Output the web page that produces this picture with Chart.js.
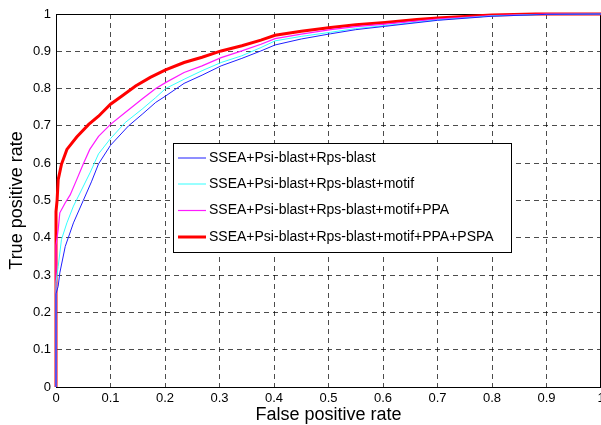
<!DOCTYPE html>
<html>
<head>
<meta charset="utf-8">
<script src="https://cdn.jsdelivr.net/npm/chart.js@4/dist/chart.umd.min.js"></script>
<style>
  html, body { margin: 0; padding: 0; background: #fff; }
  #wrap { width: 601px; height: 425px; }
</style>
</head>
<body>
<div id="wrap"><canvas id="roc" width="601" height="425"></canvas></div>
<script>
// ROC curves, values
var seriesLabels = [
    'SSEA+Psi-blast+Rps-blast',
    'SSEA+Psi-blast+Rps-blast+motif',
    'SSEA+Psi-blast+Rps-blast+motif+PPA',
    'SSEA+Psi-blast+Rps-blast+motif+PPA+PSPA'
];

var blueX = [0, 0, 0.004, 0.007, 0.017, 0.032, 0.05, 0.065, 0.078, 0.1, 0.133, 0.158, 0.183, 0.201, 0.235, 0.268, 0.303, 0.341, 0.376, 0.402, 0.45, 0.504, 0.55, 0.604, 0.7, 0.8, 0.9, 1];
var blueY = [0, 0.25, 0.27, 0.306, 0.377, 0.44, 0.5, 0.55, 0.598, 0.648, 0.70, 0.731, 0.763, 0.78, 0.814, 0.836, 0.861, 0.881, 0.901, 0.917, 0.933, 0.947, 0.958, 0.967, 0.983, 0.994, 0.999, 1];

var cyanX = [0, 0, 0.004, 0.01, 0.02, 0.032, 0.044, 0.063, 0.078, 0.1, 0.127, 0.158, 0.183, 0.201, 0.235, 0.268, 0.303, 0.341, 0.376, 0.402, 0.45, 0.504, 0.55, 0.604, 0.7, 0.8, 0.9, 1];
var cyanY = [0, 0.28, 0.323, 0.395, 0.44, 0.485, 0.52, 0.576, 0.625, 0.666, 0.709, 0.745, 0.776, 0.8, 0.825, 0.848, 0.870, 0.888, 0.910, 0.928, 0.94, 0.951, 0.961, 0.969, 0.984, 0.995, 0.999, 1];

var magentaX = [0, 0, 0.004, 0.007, 0.017, 0.026, 0.038, 0.05, 0.062, 0.078, 0.1, 0.127, 0.158, 0.183, 0.201, 0.235, 0.268, 0.303, 0.341, 0.376, 0.402, 0.45, 0.504, 0.55, 0.604, 0.7, 0.8, 0.9, 1];
var magentaY = [0, 0.38, 0.422, 0.467, 0.494, 0.515, 0.556, 0.598, 0.637, 0.672, 0.704, 0.736, 0.772, 0.8, 0.816, 0.843, 0.861, 0.883, 0.901, 0.919, 0.934, 0.946, 0.958, 0.966, 0.973, 0.986, 0.996, 1, 1];

var redX = [0, 0, 0.002, 0.004, 0.01, 0.02, 0.038, 0.06, 0.078, 0.1, 0.121, 0.146, 0.173, 0.201, 0.235, 0.268, 0.303, 0.341, 0.376, 0.402, 0.45, 0.504, 0.55, 0.604, 0.662, 0.7, 0.8, 0.88, 1];
var redY = [0, 0.47, 0.5, 0.556, 0.597, 0.637, 0.67, 0.704, 0.726, 0.758, 0.780, 0.807, 0.83, 0.85, 0.870, 0.884, 0.901, 0.915, 0.93, 0.943, 0.954, 0.964, 0.971, 0.977, 0.985, 0.989, 0.997, 1, 1];

var xTicks = [0, 0.1, 0.2, 0.3, 0.4, 0.5, 0.6, 0.7, 0.8, 0.9, 1];
var yTicks = [0, 0.1, 0.2, 0.3, 0.4, 0.5, 0.6, 0.7, 0.8, 0.9, 1];

function pts(xs, ys) {
    return xs.map(function(x, i) { return { x: x, y: ys[i] }; });
}

function tickLabel(v) {
    return String(Math.round(v * 10) / 10);
}

// Frame on top/right + legend box inside the axes
var matlabBits = {
    id: 'matlabBits',
    beforeDatasetsDraw: function(chart) {
        var a = chart.chartArea, ctx = chart.ctx;
        ctx.save();
        ctx.strokeStyle = '#000';
        ctx.lineWidth = 1;
        ctx.beginPath();
        ctx.moveTo(a.left, a.top + 0.5);
        ctx.lineTo(a.right, a.top + 0.5);
        ctx.moveTo(a.right - 0.5, a.top);
        ctx.lineTo(a.right - 0.5, a.bottom);
        ctx.stroke();
        ctx.restore();
    },
    afterDatasetsDraw: function(chart) {
        var ctx = chart.ctx;
        var bx = 173.5, by = 143.5, bw = 338, bh = 109;
        ctx.save();
        ctx.fillStyle = '#fff';
        ctx.fillRect(bx, by, bw, bh);
        ctx.strokeStyle = '#000';
        ctx.lineWidth = 1;
        ctx.strokeRect(bx, by, bw, bh);
        ctx.font = '14px "Liberation Sans", Arial, sans-serif';
        ctx.textBaseline = 'middle';
        ctx.fillStyle = '#000';
        var rows = [158, 184, 210.5, 237];
        chart.data.datasets.forEach(function(ds, i) {
            ctx.strokeStyle = ds.borderColor;
            ctx.lineWidth = ds.borderWidth;
            ctx.beginPath();
            ctx.moveTo(178, rows[i]);
            ctx.lineTo(206, rows[i]);
            ctx.stroke();
            ctx.fillText(ds.label, 209, rows[i]);
        });
        ctx.restore();
    }
};

var gridOpts = {
    color: 'rgba(0,0,0,0.7)',
    lineWidth: 1,
    drawTicks: false,
    tickLength: 0
};

new Chart(document.getElementById('roc').getContext('2d'), {
    type: 'line',
    data: {
        datasets: [{
            label: seriesLabels[0],
            data: pts(blueX, blueY),
            borderColor: '#1f1fff',
            borderWidth: 1
        }, {
            label: seriesLabels[1],
            data: pts(cyanX, cyanY),
            borderColor: '#33ffff',
            borderWidth: 1
        }, {
            label: seriesLabels[2],
            data: pts(magentaX, magentaY),
            borderColor: '#ff1aff',
            borderWidth: 1.2
        }, {
            label: seriesLabels[3],
            data: pts(redX, redY),
            borderColor: '#ff0000',
            borderWidth: 3
        }]
    },
    options: {
        responsive: false,
        animation: false,
        clip: false,
        elements: {
            point: { radius: 0 },
            line: { tension: 0, fill: false }
        },
        layout: { padding: { top: 14, right: 0, left: 0, bottom: 0 } },
        plugins: {
            legend: { display: false },
            tooltip: { enabled: false }
        },
        scales: {
            x: {
                type: 'linear',
                min: 0,
                max: 1,
                afterBuildTicks: function(scale) {
                    scale.ticks = xTicks.map(function(v) { return { value: v }; });
                },
                afterFit: function(scale) {
                    scale.height = 38;
                    // let the last label run off the canvas like the original
                    scale.paddingRight = 0;
                    scale.paddingLeft = 0;
                },
                grid: Object.assign({}, gridOpts),
                border: { display: true, color: '#000', width: 1, dash: [5, 4] },
                ticks: {
                    color: '#000',
                    padding: 4,
                    maxRotation: 0,
                    font: { family: '"Liberation Sans", Arial, sans-serif', size: 13 },
                    callback: tickLabel
                },
                title: {
                    display: true,
                    text: 'False positive rate',
                    color: '#000',
                    padding: { top: 0, bottom: -1 },
                    font: { family: '"Liberation Sans", Arial, sans-serif', size: 18 }
                }
            },
            y: {
                type: 'linear',
                min: 0,
                max: 1,
                afterBuildTicks: function(scale) {
                    scale.ticks = yTicks.map(function(v) { return { value: v }; });
                },
                afterFit: function(scale) { scale.width = 56; },
                grid: Object.assign({}, gridOpts),
                border: { display: true, color: '#000', width: 1, dash: [5, 4] },
                ticks: {
                    color: '#000',
                    padding: 5,
                    font: { family: '"Liberation Sans", Arial, sans-serif', size: 13 },
                    callback: tickLabel
                },
                title: {
                    display: true,
                    text: 'True positive rate',
                    color: '#000',
                    padding: { top: 6.5, bottom: 0 },
                    font: { family: '"Liberation Sans", Arial, sans-serif', size: 18 }
                }
            }
        }
    },
    plugins: [matlabBits]
});
</script>
</body>
</html>
